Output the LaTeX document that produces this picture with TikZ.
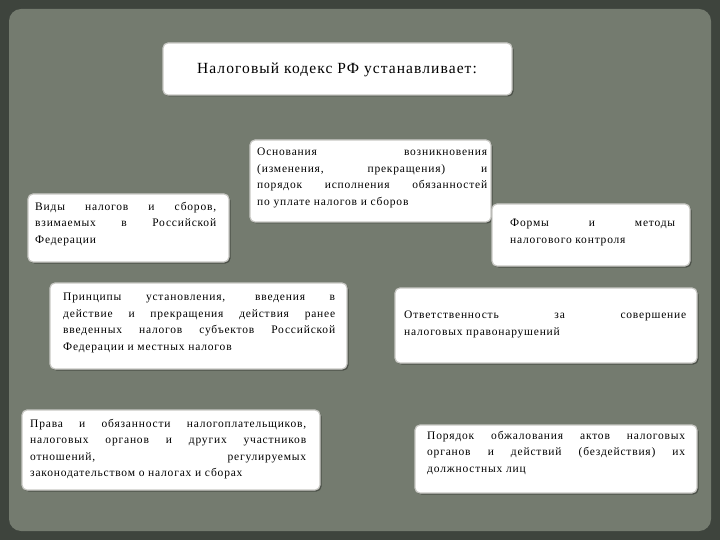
\documentclass[tikz,border=0pt]{standalone}
\usepackage{fontspec}
\setmainfont{Liberation Serif}
\newfontfamily\cardfont[LetterSpace=7]{Liberation Serif}
\usetikzlibrary{shadows}
\definecolor{frame}{HTML}{3E443D}
\definecolor{panel}{HTML}{747B6F}
\definecolor{boxedge}{HTML}{C8C8C4}
\tikzset{
  card/.style={draw=boxedge, line width=1.2pt, fill=white, rounded corners=5pt,
    drop shadow={shadow xshift=1.5pt, shadow yshift=-1.5pt, fill=black, opacity=0.35}},
  txt/.style={align=justify, font=\cardfont\fontsize{11.5}{16.5}\selectfont, inner sep=0pt, anchor=north west}
}
\begin{document}
\begin{tikzpicture}[x=1pt,y=-1pt]
\useasboundingbox (0,0) rectangle (720,540);
\fill[frame] (0,0) rectangle (720,540);
\fill[panel, rounded corners=12pt] (9,9) rectangle (711,531);
% boxes
\path[card] (163,43) rectangle (512,95);
\node[font=\cardfont\fontsize{15.5}{17}\selectfont] (t) at (337,70) {Налоговый кодекс РФ устанавливает:};

\path[card] (28,194) rectangle (229,262);
\node[txt, text width=181pt] (a) at (35,202) {Виды налогов и сборов,\linebreak взимаемых в Российской\linebreak Федерации};

\path[card] (250,140) rectangle (491,222);
\node[txt, text width=230pt] (b) at (257,148) {Основания возникновения\linebreak (изменения, прекращения) и\linebreak порядок исполнения обязанностей\linebreak по уплате налогов и сборов};

\path[card] (492,204) rectangle (690,266);
\node[txt, text width=165pt] (c) at (510,219) {Формы и методы\linebreak налогового контроля};

\path[card] (50,283) rectangle (347,369);
\node[txt, text width=272pt] (d) at (63,293) {Принципы установления, введения в\linebreak действие и прекращения действия ранее\linebreak введенных налогов субъектов Российской\linebreak Федерации и местных налогов};

\path[card] (395,288) rectangle (697,363);
\node[txt, text width=282pt] (e) at (404,311) {Ответственность за совершение\linebreak налоговых правонарушений};

\path[card] (22,410) rectangle (320,490);
\node[txt, text width=276pt] (f) at (30,419) {Права и обязанности налогоплательщиков,\linebreak налоговых органов и других участников\linebreak отношений, регулируемых\linebreak законодательством о налогах и сборах};

\path[card] (415,425) rectangle (697,493);
\node[txt, text width=258pt] (g) at (427,431) {Порядок обжалования актов налоговых\linebreak органов и действий (бездействия) их\linebreak должностных лиц};
\end{tikzpicture}
\end{document}
